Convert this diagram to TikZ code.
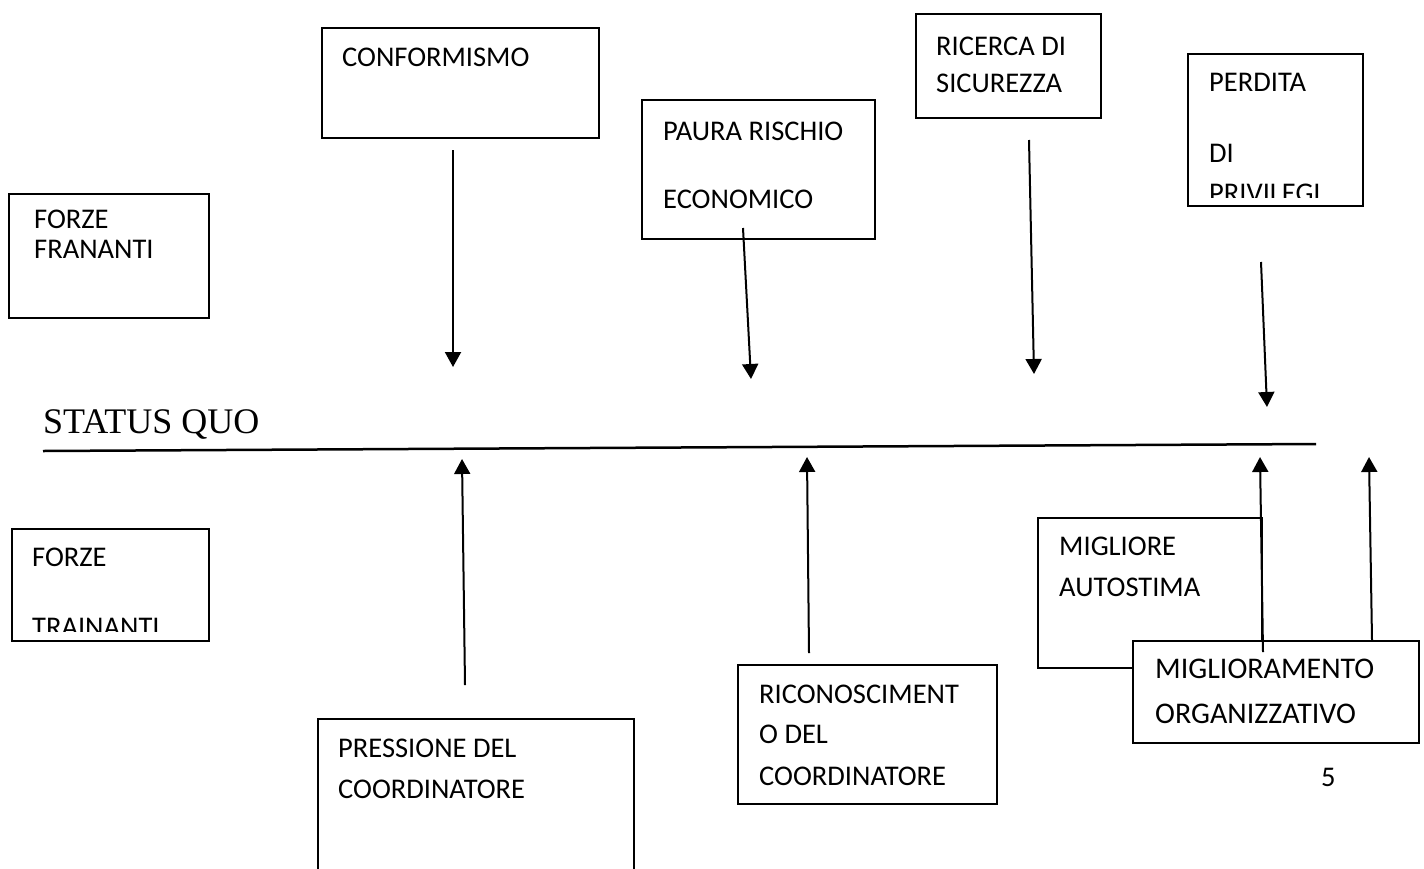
\documentclass[tikz,border=0pt]{standalone}
\usepackage{fontspec}
\setmainfont{Carlito}
\newfontfamily\timesfont{Liberation Serif}
\usetikzlibrary{arrows.meta}
\newcommand\boxfont{\fontsize{28.5pt}{34pt}\selectfont}
\newcommand\bigboxfont{\fontsize{30pt}{36pt}\selectfont}

\begin{document}
\begin{tikzpicture}[x=1pt,y=-1pt,
  box/.style={draw, line width=2pt, inner sep=0, anchor=north west, fill=white},
  txt/.style={font=\boxfont, inner sep=0, anchor=base west},
  arr/.style={line width=2pt, -{Triangle[width=16pt,length=15pt]}}]
\useasboundingbox (0,0) rectangle (1424,868);
\clip (0,0) rectangle (1424,868);

% forze frenanti
\node[box, minimum width=200pt, minimum height=124pt] (fran) at (8,193) {};
\node[txt] (fran1) at (34,228) {FORZE};
\node[txt] (fran2) at (34,258) {FRANANTI};

\node[box, minimum width=277pt, minimum height=110pt] (conf) at (321,27) {};
\node[txt] (conf1) at (342,66) {CONFORMISMO};

\node[box, minimum width=233pt, minimum height=139pt] (paura) at (641,99) {};
\node[txt] (paura1) at (663,140) {PAURA RISCHIO};
\node[txt] (paura2) at (663,208) {ECONOMICO};

\node[box, minimum width=185pt, minimum height=104pt] (ric) at (915,13) {};
\node[txt] (ric1) at (936,55) {RICERCA DI};
\node[txt] (ric2) at (936,92) {SICUREZZA};

\node[box, minimum width=175pt, minimum height=152pt] (perd) at (1187,53) {};
\begin{scope}
\clip (perd.north west) rectangle ([yshift=10pt]perd.south east);
\node[txt] (perd1) at (1209,91) {PERDITA};
\node[txt] (perd2) at (1209,162) {DI};
\node[txt] (perd3) at (1209,202) {PRIVILEGI};
\end{scope}

% status quo
\node[inner sep=0, anchor=base west, font=\timesfont\fontsize{36pt}{42pt}\selectfont] (sq) at (43,433) {STATUS QUO};
\coordinate (sqa) at (43,451);
\coordinate (sqb) at (1316,444);
\draw[line width=2.5pt] (sqa) -- (sqb);

% forze trainanti
\node[box, minimum width=197pt, minimum height=112pt] (trai) at (11,528) {};
\begin{scope}
\clip (trai.north west) rectangle ([yshift=11pt]trai.south east);
\node[txt] (trai1) at (32,566) {FORZE};
\node[txt] (trai2) at (32,636) {TRAINANTI};
\end{scope}

\node[box, minimum width=316pt, minimum height=170pt] (press) at (317,718) {};
\node[txt] (press1) at (338,757) {PRESSIONE DEL};
\node[txt] (press2) at (338,798) {COORDINATORE};

\node[box, minimum width=259pt, minimum height=139pt] (rico) at (737,664) {};
\node[txt] (rico1) at (759,703) {RICONOSCIMENT};
\node[txt] (rico2) at (759,743) {O DEL};
\node[txt] (rico3) at (759,785) {COORDINATORE};

\node[box, minimum width=224pt, minimum height=150pt] (auto) at (1037,517) {};
\node[txt] (auto1) at (1059,555) {MIGLIORE};
\node[txt] (auto2) at (1059,596) {AUTOSTIMA};

\node[box, minimum width=286pt, minimum height=102pt] (org) at (1132,640) {};
\node[txt, font=\bigboxfont] (org1) at (1155,678) {MIGLIORAMENTO};
\node[txt, font=\bigboxfont] (org2) at (1155,723) {ORGANIZZATIVO};

\node[txt] (pag) at (1321,786) {5};

% frecce verso il basso
\coordinate (d1a) at (453,150);  \coordinate (d1b) at (453,367);
\coordinate (d2a) at (743,228);  \coordinate (d2b) at (751,379);
\coordinate (d3a) at (1029,140); \coordinate (d3b) at (1034,374);
\coordinate (d4a) at (1261,262); \coordinate (d4b) at (1267,407);
\draw[arr] (d1a) -- (d1b);
\draw[arr] (d2a) -- (d2b);
\draw[arr] (d3a) -- (d3b);
\draw[arr] (d4a) -- (d4b);

% frecce verso l'alto
\coordinate (u1a) at (465,685); \coordinate (u1b) at (462,459);
\coordinate (u2a) at (809,653); \coordinate (u2b) at (807,457);
\coordinate (u3a) at (1263,652); \coordinate (u3b) at (1260,457);
\coordinate (u4a) at (1372,640); \coordinate (u4b) at (1369,457);
\draw[arr] (u1a) -- (u1b);
\draw[arr] (u2a) -- (u2b);
\draw[arr] (u3a) -- (u3b);
\draw[arr] (u4a) -- (u4b);
\end{tikzpicture}
\end{document}
